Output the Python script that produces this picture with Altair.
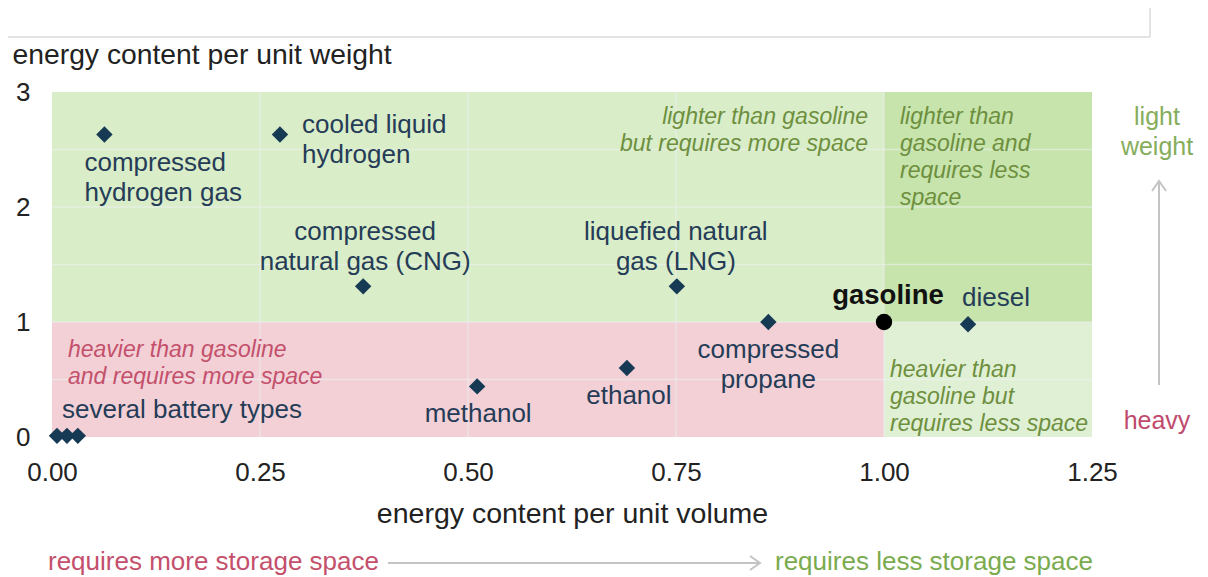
import altair as alt
import pandas as pd

FONT = "Liberation Sans"

# ---- data ----
fuel = ["compressed hydrogen gas", "cooled liquid hydrogen", "compressed natural gas (CNG)",
        "liquefied natural gas (LNG)", "compressed propane", "diesel",
        "methanol", "ethanol", "battery A", "battery B", "battery C"]
volume = [0.063, 0.274, 0.374, 0.751, 0.861, 1.101, 0.511, 0.691, 0.006, 0.018, 0.031]
weight = [2.63, 2.63, 1.31, 1.31, 1.00, 0.98, 0.44, 0.60, 0.01, 0.01, 0.01]

ref_fuel = ["gasoline"]
ref_volume = [1.0]
ref_weight = [1.0]

x_ticks = [0, 0.25, 0.5, 0.75, 1.0, 1.25]
y_ticks = [0, 1, 2, 3]
grid_x = [0.25, 0.5, 0.75, 1.0]
grid_y = [0.5, 1.0, 1.5, 2.0, 2.5]

region = ["heavier, more space", "heavier, less space", "lighter, more space", "lighter, less space"]
region_x0 = [0, 1.0, 0, 1.0]
region_x1 = [1.0, 1.25, 1.0, 1.25]
region_y0 = [0, 0, 1, 1]
region_y1 = [1, 1, 3, 3]
region_colors = ["#f2d0d6", "#e0f0d4", "#d9edc9", "#c6e4ac"]

# ---- tables ----
pts = pd.DataFrame({"fuel": fuel, "volume": volume, "weight": weight})
ref = pd.DataFrame({"fuel": ref_fuel, "volume": ref_volume, "weight": ref_weight})
reg = pd.DataFrame({"region": region, "x0": region_x0, "x1": region_x1,
                    "y0": region_y0, "y1": region_y1})
gx = pd.DataFrame({"g": grid_x})
gy = pd.DataFrame({"g": grid_y})
one = pd.DataFrame({"d": [0]})

xs = alt.Scale(domain=[0, 1.25], nice=False, zero=False)
ys = alt.Scale(domain=[0, 3], nice=False, zero=False)

xaxis = alt.Axis(values=x_ticks, format=".2f", ticks=False, domain=False, grid=False,
                 labelFont=FONT, labelFontSize=26, labelColor="#222222", labelPadding=35,
                 labelBaseline="middle", labelFlush=False, labelOverlap=False,
                 title="energy content per unit volume", titleFont=FONT, titleFontSize=28.5,
                 titleFontWeight="normal", titleColor="#222222", titleY=76,
                 titleBaseline="middle")
yaxis = alt.Axis(values=y_ticks, format="d", ticks=False, domain=False, grid=False,
                 labelFont=FONT, labelFontSize=26, labelColor="#222222", labelPadding=22,
                 title="energy content per unit weight", titleFont=FONT, titleFontSize=28.3,
                 titleFontWeight="normal", titleColor="#222222", titleAngle=0,
                 titleAlign="left", titleX=-40, titleY=-37, titleBaseline="middle")


def X(field):
    return alt.X(field, scale=xs, axis=xaxis)


def Y(field):
    return alt.Y(field, scale=ys, axis=yaxis)


bg = alt.Chart(reg).mark_rect().encode(
    x=X("x0:Q"), x2="x1:Q", y=Y("y0:Q"), y2="y1:Q",
    color=alt.Color("region:N", scale=alt.Scale(domain=region, range=region_colors), legend=None),
)

grid_v = alt.Chart(gx).mark_rule(color="#eef3f2", opacity=0.55, strokeWidth=1.5).encode(x=X("g:Q"))
grid_h = alt.Chart(gy).mark_rule(color="#eef3f2", opacity=0.55, strokeWidth=1.5).encode(y=Y("g:Q"))

markers = alt.Chart(pts).mark_point(shape="diamond", filled=True, size=270, color="#173a54",
                                    opacity=1).encode(x=X("volume:Q"), y=Y("weight:Q"))
ref_marker = alt.Chart(ref).mark_point(shape="circle", filled=True, size=270, color="#000000",
                                       opacity=1).encode(x=X("volume:Q"), y=Y("weight:Q"))

LABEL_COLOR = "#253c57"
# label text and placement of its first line relative to its point: (text, align, dx, dy)
label_layout = {
    "compressed hydrogen gas": ("compressed\nhydrogen gas", "left", -20, 28),
    "cooled liquid hydrogen": ("cooled liquid\nhydrogen", "left", 22, -10),
    "compressed natural gas (CNG)": ("compressed\nnatural gas (CNG)", "center", 2, -54),
    "liquefied natural gas (LNG)": ("liquefied natural\ngas (LNG)", "center", -1, -54),
    "compressed propane": ("compressed\npropane", "center", 0, 28),
    "diesel": ("diesel", "center", 28, -26),
    "methanol": ("methanol", "center", 1, 28),
    "ethanol": ("ethanol", "center", 2, 28),
    "battery A": ("several battery types", "left", 5, -26),
}

layers = [bg, grid_v, grid_h, markers, ref_marker]

for key, (txt, align, dx, dy) in label_layout.items():
    layers.append(
        alt.Chart(pts[pts.fuel == key]).mark_text(
            font=FONT, fontSize=26, color=LABEL_COLOR, align=align, baseline="middle",
            dx=dx, dy=dy, lineBreak="\n", lineHeight=30).encode(
            x=X("volume:Q"), y=Y("weight:Q"), text=alt.value(txt)))

layers.append(
    alt.Chart(ref).mark_text(font=FONT, fontSize=27.5, fontWeight="bold", color="#111111",
                             align="center", baseline="middle", dx=4, dy=-26).encode(
        x=X("volume:Q"), y=Y("weight:Q"), text="fuel:N"))

# region annotations (anchored at region corners in data units)
GREEN_T = "#6e8f3e"
PINK_T = "#c4506c"
region_notes = [
    ("lighter than gasoline\nbut requires more space", 1.0, 3.0, "right", -16, 25, GREEN_T),
    ("lighter than\ngasoline and\nrequires less\nspace", 1.0, 3.0, "left", 16, 25, GREEN_T),
    ("heavier than gasoline\nand requires more space", 0.0, 1.0, "left", 16, 28, PINK_T),
    ("heavier than\ngasoline but\nrequires less space", 1.0, 1.0, "left", 6, 48, GREEN_T),
]
for txt, ax, ay, align, dx, dy, col in region_notes:
    layers.append(
        alt.Chart(pd.DataFrame({"vx": [ax], "vy": [ay]})).mark_text(
            font=FONT, fontSize=23, fontStyle="italic", color=col, align=align,
            baseline="middle", dx=dx, dy=dy, lineBreak="\n", lineHeight=27).encode(
            x=X("vx:Q"), y=Y("vy:Q"), text=alt.value(txt)))

# side / bottom direction hints (pixel placed decorations)
ARROW = "#c4c4c4"
layers += [
    alt.Chart(one).mark_text(font=FONT, fontSize=25, color="#86ad5c", align="center",
                             baseline="middle", lineBreak="\n", lineHeight=30).encode(
        x=alt.value(1105), y=alt.value(25), text=alt.value("light\nweight")),
    alt.Chart(one).mark_text(font=FONT, fontSize=25, color="#c04a6e", align="center",
                             baseline="middle").encode(
        x=alt.value(1105), y=alt.value(329), text=alt.value("heavy")),
    alt.Chart(one).mark_rule(color=ARROW, strokeWidth=2).encode(
        x=alt.value(1107), y=alt.value(89), y2=alt.value(293)),
    alt.Chart(one).mark_point(shape="M-0.7,1L0,0L0.7,1", filled=False, size=400, color=ARROW,
                              strokeWidth=2, opacity=1).encode(
        x=alt.value(1107), y=alt.value(89)),
    alt.Chart(one).mark_text(font=FONT, fontSize=26, color="#c4506c", align="left",
                             baseline="middle").encode(
        x=alt.value(-4), y=alt.value(470), text=alt.value("requires more storage space")),
    alt.Chart(one).mark_text(font=FONT, fontSize=26, color="#7aab4e", align="left",
                             baseline="middle").encode(
        x=alt.value(723), y=alt.value(470), text=alt.value("requires less storage space")),
    alt.Chart(one).mark_rule(color=ARROW, strokeWidth=2).encode(
        x=alt.value(336), x2=alt.value(708), y=alt.value(471)),
    alt.Chart(one).mark_point(shape="M-1,-0.7L0,0L-1,0.7", filled=False, size=400, color=ARROW,
                              strokeWidth=2, opacity=1).encode(
        x=alt.value(708), y=alt.value(471)),
    # thin frame line at the very top of the picture
    alt.Chart(one).mark_rule(color="#c8c8c8", strokeWidth=1).encode(
        x=alt.value(-44), x2=alt.value(1098), y=alt.value(-55)),
    alt.Chart(one).mark_rule(color="#c8c8c8", strokeWidth=1).encode(
        x=alt.value(1098), y=alt.value(-84), y2=alt.value(-55)),
]

chart = alt.layer(*layers).properties(
    width=1040, height=345,
    autosize=alt.AutoSizeParams(type="none"),
    padding={"left": 44, "top": 84, "right": 104, "bottom": 139},
    background="white",
).configure_view(stroke=None)

chart.save("out.html", embed_options={"renderer": "svg", "actions": False})
